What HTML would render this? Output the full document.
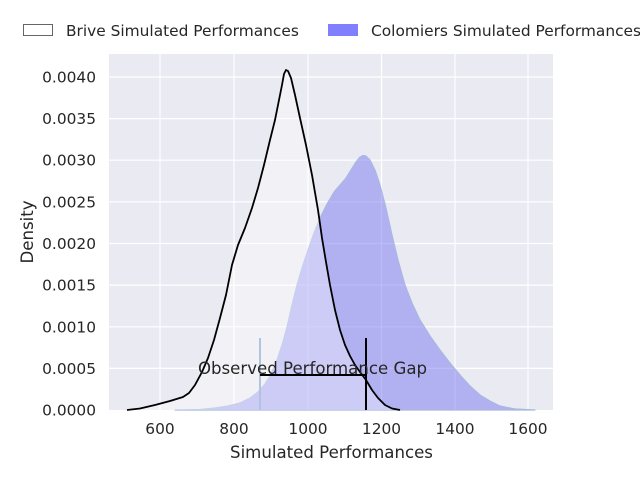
<!DOCTYPE html>
<html><head><meta charset="utf-8"><style>
body{margin:0;background:#fff;}
svg{display:block;font-family:"DejaVu Sans","Liberation Sans",sans-serif;}
</style></head><body>
<svg width="640" height="480" viewBox="0 0 640 480" xmlns="http://www.w3.org/2000/svg">
<rect x="109" y="54" width="444" height="356" fill="#eaeaf2"/>
<g stroke="#fff" stroke-width="1.2">
<line x1="160" y1="54" x2="160" y2="410"/><line x1="234" y1="54" x2="234" y2="410"/>
<line x1="308" y1="54" x2="308" y2="410"/><line x1="381.5" y1="54" x2="381.5" y2="410"/>
<line x1="455" y1="54" x2="455" y2="410"/><line x1="528" y1="54" x2="528" y2="410"/>
<line x1="109" y1="368.4" x2="553" y2="368.4"/><line x1="109" y1="326.8" x2="553" y2="326.8"/>
<line x1="109" y1="285.1" x2="553" y2="285.1"/><line x1="109" y1="243.5" x2="553" y2="243.5"/>
<line x1="109" y1="201.9" x2="553" y2="201.9"/><line x1="109" y1="160.2" x2="553" y2="160.2"/>
<line x1="109" y1="118.6" x2="553" y2="118.6"/><line x1="109" y1="77" x2="553" y2="77"/>
</g>
<path d="M175,410 L200,409.5 L215,408 L228,406 L240,403 L250,398 L258,392 L265,384 L271,374 L277,360 L282,345 L287,327 L292,305 L297,285 L302,268 L308,250 L314,233 L320,218 L327,204 L334,192 L340,185 L346,178 L351,170 L356,162 L360,157 L363,155.5 L366,156 L370,160 L375,170 L380,185 L386,208 L392,235 L398,260 L405,285 L412,303 L420,320 L430,336 L440,350 L450,363 L460,375 L470,386 L480,395 L490,401 L500,406 L515,409 L535,410 Z" fill="#7878f0" fill-opacity="0.5" stroke="#a8b8e0" stroke-width="1.2" stroke-linejoin="round"/>
<path d="M127,410 L140,408.5 L155,405 L170,401 L183,397 L189,393 L195,385 L202,372 L208,358 L214,340 L220,318 L226,295 L232,265 L238,245 L245,228 L252,208 L258,188 L264,165 L270,140 L275,120 L279,100 L282,85 L284,74 L286,70 L288,71 L291,78 L295,95 L300,118 L306,145 L312,175 L318,210 L322,238 L326,262 L330,285 L335,310 L340,330 L345,345 L350,356 L355,365 L360,372 L366,380 L372,390 L378,398 L385,405 L392,408.5 L400,410" fill="#ffffff" fill-opacity="0.35" stroke="#000" stroke-width="1.8" stroke-linejoin="round"/>
<line x1="260" y1="338" x2="260" y2="410" stroke="#b0c4de" stroke-width="2"/>
<line x1="366" y1="338" x2="366" y2="410" stroke="#000" stroke-width="2"/>
<line x1="260" y1="375" x2="366" y2="375" stroke="#000" stroke-width="2"/>
<text x="312.5" y="374" font-size="16.6" fill="#262626" text-anchor="middle">Observed Performance Gap</text>
<g font-size="15.4" fill="#262626" text-anchor="middle">
<text x="160" y="434">600</text><text x="234" y="434">800</text><text x="308" y="434">1000</text>
<text x="381.5" y="434">1200</text><text x="455" y="434">1400</text><text x="528" y="434">1600</text>
</g>
<g font-size="15.4" fill="#262626" text-anchor="end">
<text x="96" y="415.5">0.0000</text><text x="96" y="373.9">0.0005</text><text x="96" y="332.3">0.0010</text>
<text x="96" y="290.6">0.0015</text><text x="96" y="249">0.0020</text><text x="96" y="207.4">0.0025</text>
<text x="96" y="165.7">0.0030</text><text x="96" y="124.1">0.0035</text><text x="96" y="82.5">0.0040</text>
</g>
<text x="331.5" y="458" font-size="16.6" fill="#262626" text-anchor="middle">Simulated Performances</text>
<text x="33" y="232" font-size="16.6" fill="#262626" text-anchor="middle" transform="rotate(-90 33 232)">Density</text>
<rect x="23.5" y="24.5" width="29" height="11" fill="#fff" stroke="#666" stroke-width="1"/>
<text x="66" y="36" font-size="15.4" fill="#262626">Brive Simulated Performances</text>
<rect x="328" y="24" width="30" height="12" fill="#8080ff"/>
<text x="371" y="36" font-size="15.4" fill="#262626">Colomiers Simulated Performances</text>
</svg>
</body></html>
